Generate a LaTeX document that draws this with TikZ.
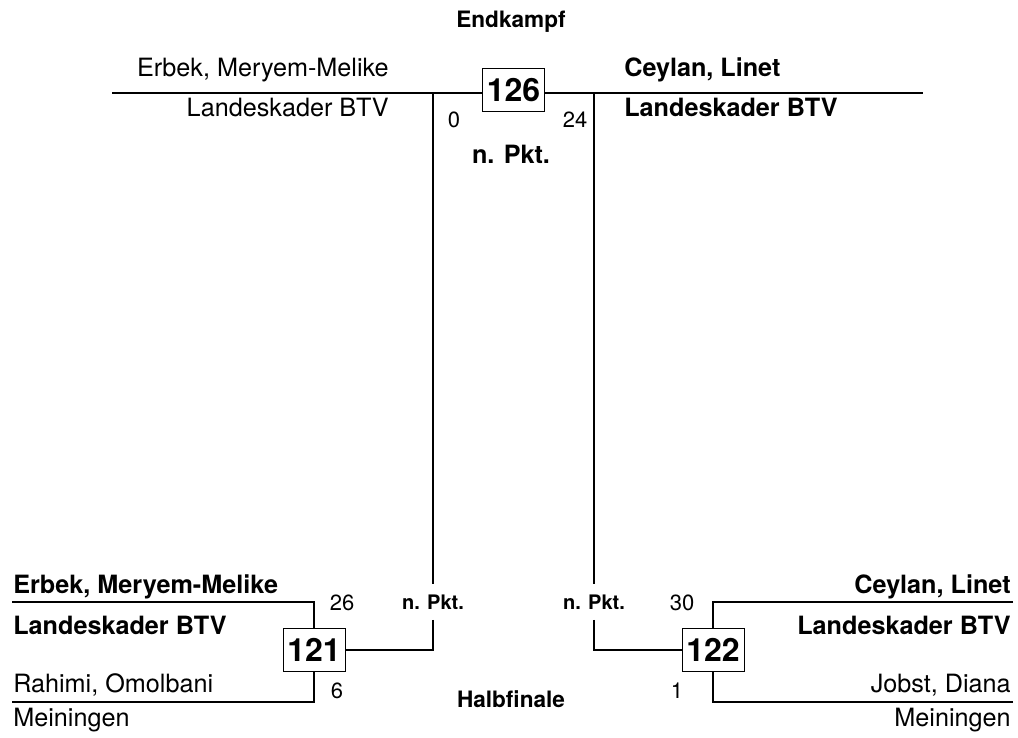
\documentclass[tikz,border=0pt]{standalone}
\usepackage{fontspec}
\setmainfont{TeX Gyre Heros}
\usepackage{tikz}
\usetikzlibrary{positioning}

\begin{document}
\begin{tikzpicture}[x=0.5pt, y=-0.5pt, line width=1.3pt,
    numbox/.style={draw, line width=0.5pt, fill=white, inner sep=0pt,
      minimum width=31pt, minimum height=21.5pt, font=\fontsize{16}{17}\selectfont\bfseries},
    player/.style={inner sep=0pt, font=\fontsize{12.6}{14}\selectfont},
    winner/.style={player, font=\fontsize{12.6}{14}\selectfont\bfseries},
    score/.style={inner sep=0pt, anchor=base, font=\fontsize{11}{12}\selectfont},
    stage/.style={inner sep=0pt, anchor=base, font=\fontsize{11.3}{12}\selectfont\bfseries},
    pkt/.style={inner sep=1pt, minimum height=16.5pt, font=\fontsize{10}{11}\selectfont\bfseries}]
  \useasboundingbox (0,0) rectangle (1018,738);
  % Endkampf
  \node[stage] (final) at (511,28) {Endkampf};
  \coordinate (tl) at (112,93);
  \coordinate (tr) at (923,93);
  \coordinate (jl) at (433,93);
  \coordinate (jr) at (594,93);
  \node[numbox] (m126) at (513.5,90) {126};
  \draw (tl) -- (tl -| m126.west);
  \draw (m126.east |- tr) -- (tr);
  \node[player, anchor=base east] (fl1) at (390,77) {Erbek, Meryem-Melike};
  \node[player, anchor=base east] (fl2) at (390,117) {Landeskader BTV};
  \node[winner, anchor=base west] (fr1) at (623,77) {Ceylan, Linet};
  \node[winner, anchor=base west] (fr2) at (623,117) {Landeskader BTV};
  \node[score] (s0) at (454,127) {0};
  \node[score] (s24) at (575,127) {24};
  \node[stage, font=\fontsize{12.6}{14}\selectfont\bfseries] (fp) at (511,163) {n. Pkt.};
  % Halbfinale
  \node[stage] (semi) at (511,707) {Halbfinale};
  \node[numbox] (m121) at (314,650) {121};
  \node[numbox] (m122) at (713,650) {122};
  \coordinate (a1) at (12,602);
  \coordinate (b1) at (12,702);
  \coordinate (c1) at (1013,602);
  \coordinate (d1) at (1013,702);
  \draw (a1) -| (m121.north);
  \draw (b1) -| (m121.south);
  \draw (c1) -| (m122.north);
  \draw (d1) -| (m122.south);
  \node[pkt] (pl) at (433,602) {n. Pkt.};
  \node[pkt] (pr) at (594,602) {n. Pkt.};
  \draw (jl) -- (pl.north);
  \draw (pl.south) |- (m121.east);
  \draw (jr) -- (pr.north);
  \draw (pr.south) |- (m122.west);
  \node[winner, anchor=base west] (l1) at (12,593) {Erbek, Meryem-Melike};
  \node[winner, anchor=base west] (l2) at (12,634) {Landeskader BTV};
  \node[player, anchor=base west] (l3) at (12,692) {Rahimi, Omolbani};
  \node[player, anchor=base west] (l4) at (12,726) {Meiningen};
  \node[winner, anchor=base east] (r1) at (1012,593) {Ceylan, Linet};
  \node[winner, anchor=base east] (r2) at (1012,634) {Landeskader BTV};
  \node[player, anchor=base east] (r3) at (1012,692) {Jobst, Diana};
  \node[player, anchor=base east] (r4) at (1012,726) {Meiningen};
  \node[score] (s26) at (342,610) {26};
  \node[score] (s6) at (337,698) {6};
  \node[score] (s30) at (682,610) {30};
  \node[score] (s1) at (677,698) {1};
\end{tikzpicture}
\end{document}
